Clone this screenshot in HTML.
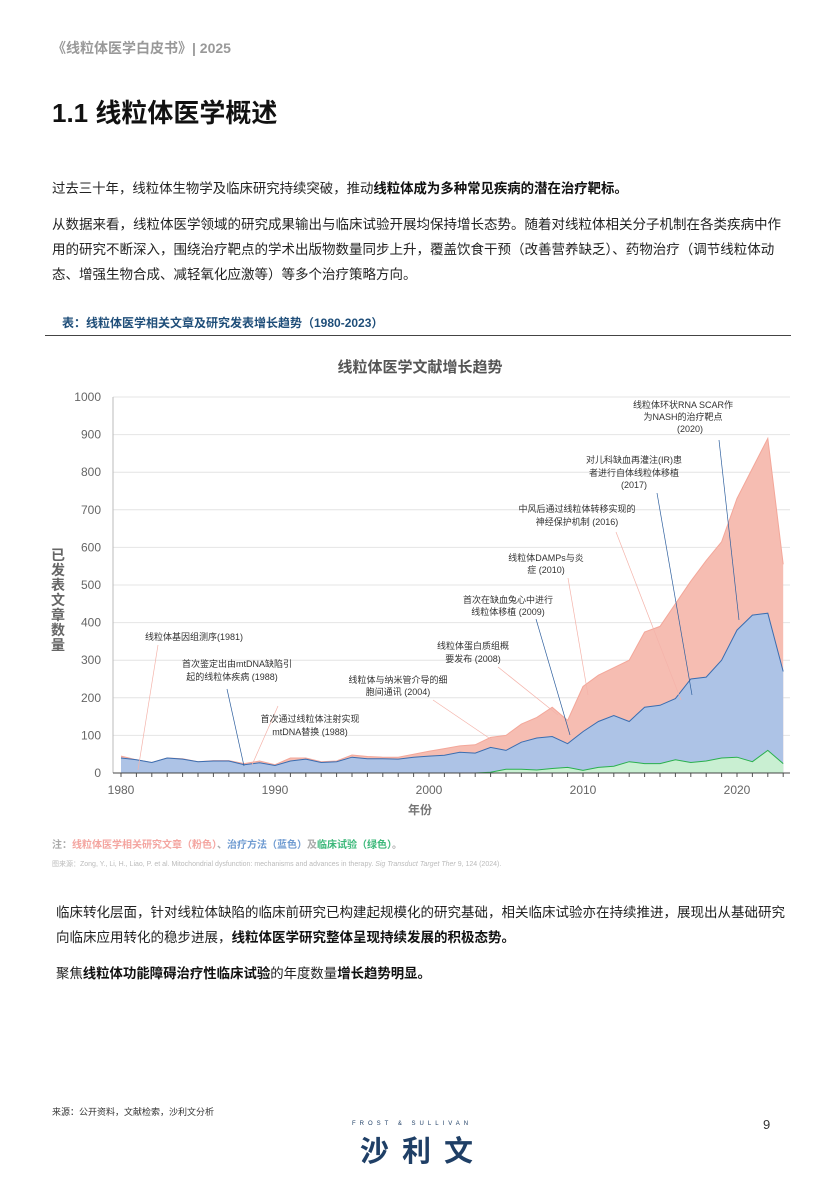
<!DOCTYPE html>
<html><head><meta charset="utf-8">
<style>
body{margin:0;background:#fff;}
#p{position:relative;width:831px;height:1181px;overflow:hidden;font-family:"Liberation Sans","Noto Sans CJK SC",sans-serif;color:#222;}
.a{position:absolute;white-space:nowrap;}
b{font-weight:bold;color:#111;}
</style></head><body><div id="p">
<div class="a" style="left:52px;top:38px;font-size:14px;font-weight:bold;color:#999;">《线粒体医学白皮书》| 2025</div>
<div class="a" style="left:52px;top:93px;font-size:26px;font-weight:bold;color:#111;">1.1 线粒体医学概述</div>
<div class="a" style="left:52px;top:177px;font-size:13.4px;">过去三十年，线粒体生物学及临床研究持续突破，推动<b>线粒体成为多种常见疾病的潜在治疗靶标。</b></div>
<div class="a" style="left:52px;top:212px;font-size:13.5px;line-height:25px;white-space:normal;width:740px;">从数据来看，线粒体医学领域的研究成果输出与临床试验开展均保持增长态势。随着对线粒体相关分子机制在各类疾病中作用的研究不断深入，围绕治疗靶点的学术出版物数量同步上升，覆盖饮食干预（改善营养缺乏）、药物治疗（调节线粒体动态、增强生物合成、减轻氧化应激等）等多个治疗策略方向。</div>
<div class="a" style="left:62px;top:314px;font-size:12px;font-weight:bold;color:#1f4e79;">表：线粒体医学相关文章及研究发表增长趋势（1980-2023）</div>
<div class="a" style="left:45px;top:335px;width:746px;height:1px;background:#444;"></div>
<svg class="a" style="left:0;top:0" width="831" height="830" id="s">
<text x="420" y="372" font-size="15" font-weight="bold" fill="#555" text-anchor="middle">线粒体医学文献增长趋势</text>
<g id="grid"></g>
<g id="ser"></g>
<g font-size="12" fill="#666" text-anchor="end" id="yl"></g>
<g font-size="12" fill="#666" text-anchor="middle">
<text x="121" y="794">1980</text><text x="275" y="794">1990</text><text x="429" y="794">2000</text><text x="583" y="794">2010</text><text x="737" y="794">2020</text></g>
<text x="420" y="814" font-size="12" font-weight="bold" fill="#777" text-anchor="middle">年份</text>
<g font-size="14" font-weight="bold" fill="#666" text-anchor="middle">
<text x="58" y="560">已</text><text x="58" y="575">发</text><text x="58" y="590">表</text><text x="58" y="605">文</text><text x="58" y="620">章</text><text x="58" y="635">数</text><text x="58" y="650">量</text></g>
<g stroke-width="0.7" fill="none">
<line x1="158" y1="645" x2="138" y2="770" stroke="#f4b3aa"/>
<line x1="227" y1="689" x2="244" y2="766" stroke="#2e5f9e"/>
<line x1="278" y1="706" x2="252" y2="765" stroke="#f4b3aa"/>
<line x1="433" y1="700" x2="492" y2="740" stroke="#f4b3aa"/>
<line x1="498" y1="667" x2="558" y2="715" stroke="#f4b3aa"/>
<line x1="536" y1="619" x2="570" y2="735" stroke="#2e5f9e"/>
<line x1="568" y1="578" x2="588" y2="695" stroke="#f4b3aa"/>
<line x1="616" y1="532" x2="681" y2="700" stroke="#f4b3aa"/>
<line x1="657" y1="493" x2="692" y2="695" stroke="#2e5f9e"/>
<line x1="719" y1="440" x2="739" y2="620" stroke="#2e5f9e"/>
</g>
<g font-size="9" fill="#333" text-anchor="middle">
<text x="683" y="408">线粒体环状RNA SCAR作</text><text x="683" y="420">为NASH的治疗靶点</text><text x="690" y="432">(2020)</text>
<text x="634" y="463">对儿科缺血再灌注(IR)患</text><text x="634" y="476">者进行自体线粒体移植</text><text x="634" y="488">(2017)</text>
<text x="577" y="512">中风后通过线粒体转移实现的</text><text x="577" y="525">神经保护机制 (2016)</text>
<text x="546" y="561">线粒体DAMPs与炎</text><text x="546" y="573">症 (2010)</text>
<text x="508" y="603">首次在缺血兔心中进行</text><text x="508" y="615">线粒体移植 (2009)</text>
<text x="473" y="649">线粒体蛋白质组概</text><text x="473" y="662">要发布 (2008)</text>
<text x="398" y="683">线粒体与纳米管介导的细</text><text x="398" y="695">胞间通讯 (2004)</text>
<text x="310" y="722">首次通过线粒体注射实现</text><text x="310" y="735">mtDNA替换 (1988)</text>
<text x="194" y="640">线粒体基因组测序(1981)</text>
<text x="237" y="667">首次鉴定出由mtDNA缺陷引</text><text x="232" y="680">起的线粒体疾病 (1988)</text>
</g>
</svg>
<div class="a" style="left:52px;top:836px;font-size:10px;font-weight:bold;color:#aaa;">注：<span style="color:#f4a5a0">线粒体医学相关研究文章（粉色）</span>、<span style="color:#6f9bd1">治疗方法（蓝色）</span>及<span style="color:#3cb87a">临床试验（绿色）</span>。</div>
<div class="a" style="left:52px;top:859px;font-size:7px;color:#bbb;">图来源：Zong, Y., Li, H., Liao, P. et al. Mitochondrial dysfunction: mechanisms and advances in therapy. <i>Sig Transduct Target Ther</i> 9, 124 (2024).</div>
<div class="a" style="left:56px;top:900px;font-size:13.5px;line-height:25px;white-space:normal;width:736px;">临床转化层面，针对线粒体缺陷的临床前研究已构建起规模化的研究基础，相关临床试验亦在持续推进，展现出从基础研究向临床应用转化的稳步进展，<b>线粒体医学研究整体呈现持续发展的积极态势。</b></div>
<div class="a" style="left:56px;top:962px;font-size:13.4px;">聚焦<b>线粒体功能障碍治疗性临床试验</b>的年度数量<b>增长趋势明显。</b></div>
<div class="a" style="left:52px;top:1105px;font-size:9px;color:#333;">来源：公开资料，文献检索，沙利文分析</div>
<div class="a" style="left:763px;top:1117px;font-size:13px;color:#333;">9</div>
<div class="a" style="left:352px;top:1121px;font-size:6px;letter-spacing:4px;color:#1f3f66;">FROST &amp; SULLIVAN</div>
<div class="a" style="left:360px;top:1128px;font-size:29px;font-weight:bold;letter-spacing:13px;color:#1f3f66;">沙利文</div>
</div>
<script>
var P=[45,35,28,40,38,30,33,33,25,32,22,40,40,30,32,48,44,42,42,50,58,65,72,75,95,100,130,148,175,140,230,260,280,300,375,390,450,510,565,615,730,810,890,555];
var B=[40,35,28,40,37,30,32,32,22,27,20,32,37,28,30,42,38,38,37,42,45,47,55,53,68,60,82,93,97,78,110,137,153,137,175,180,198,250,255,300,380,420,425,270];
var G=[0,0,0,0,0,0,0,0,0,0,0,0,0,0,0,0,0,0,0,0,0,0,0,0,2,10,10,8,12,15,7,15,18,30,25,25,35,28,32,40,42,30,60,25];
function X(i){return 121+i*15.4;}function Y(v){return 773-v*0.376;}
function path(a,fill,stroke){var d="M"+X(0)+","+Y(0);for(var i=0;i<a.length;i++)d+=" L"+X(i).toFixed(1)+","+Y(a[i]).toFixed(1);d+=" L"+X(a.length-1)+","+Y(0)+"Z";
var l="M"+X(0)+","+Y(a[0]);for(var i=1;i<a.length;i++)l+=" L"+X(i).toFixed(1)+","+Y(a[i]).toFixed(1);
return '<path d="'+d+'" fill="'+fill+'"/>'+(stroke?'<path d="'+l+'" fill="none" stroke="'+stroke+'" stroke-width="1"/>':'');}
var g="";for(var v=0;v<=1000;v+=100){g+='<line x1="113" x2="790" y1="'+Y(v)+'" y2="'+Y(v)+'" stroke="#e4e4e4"/>';}
g+='<line x1="113" x2="113" y1="'+Y(1000)+'" y2="773" stroke="#bbb"/>';
for(var i=0;i<44;i++)g+='<line x1="'+X(i)+'" x2="'+X(i)+'" y1="773" y2="777" stroke="#555"/>';
document.getElementById("grid").innerHTML=g;
document.getElementById("ser").innerHTML=path(P,"#f6bdb2","#f3a79a")+path(B,"#adc3e6","#3a6db0")+path(G,"#c9efd2","#2ab04e")+'<line x1="113" x2="790" y1="773" y2="773" stroke="#444"/>';
var t="";for(var v=0;v<=1000;v+=100)t+='<text x="101" y="'+(Y(v)+4)+'">'+v+'</text>';
document.getElementById("yl").innerHTML=t;
</script>
</body></html>
